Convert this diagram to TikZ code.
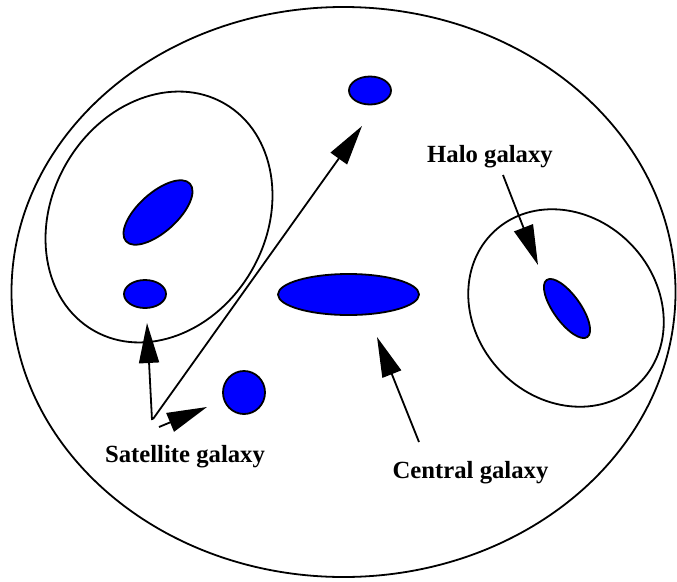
\documentclass[tikz,border=0pt]{standalone}
\usepackage{fontspec}
\setmainfont{Liberation Serif}
\usetikzlibrary{arrows.meta,shapes.geometric}
\begin{document}
\begin{tikzpicture}[x=1pt,y=-1pt,
  halo/.style={draw=black,line width=1.8pt,ellipse,inner sep=0pt,outer sep=0pt},
  gal/.style={draw=black,fill=blue,line width=1.8pt,ellipse,inner sep=0pt,outer sep=0pt},
  arr/.style={line width=1.8pt,-{Triangle[length=40pt,width=20pt]}},
  lab/.style={font=\bfseries\fontsize{24.7}{29}\selectfont,inner sep=0pt,anchor=base}]
\useasboundingbox[fill=white] (0,0) rectangle (677,581);
% outer halo
\node[halo,minimum width=664pt,minimum height=570pt] (outer) at (343.5,292) {};
% sub halos
\node[halo,minimum width=262pt,minimum height=214pt,rotate=60] (lefthalo) at (159,217) {};
\node[halo,minimum width=210pt,minimum height=182pt,rotate=133] (righthalo) at (566,308) {};
% galaxies
\node[gal,minimum width=86pt,minimum height=39pt,rotate=42] (g1) at (158,212.5) {};
\node[gal,minimum width=42pt,minimum height=28pt] (g2) at (145,294) {};
\node[gal,minimum width=42pt,minimum height=28pt] (g3) at (370,90.5) {};
\node[gal,minimum width=42pt,minimum height=43pt] (g4) at (244,392.5) {};
\node[gal,minimum width=141pt,minimum height=41pt] (central) at (348.5,294.5) {};
\node[gal,minimum width=70pt,minimum height=27pt,rotate=-54.5] (g5) at (567,308.5) {};
% labels
\node[lab] (halolab) at (490,162) {Halo galaxy};
\node[lab] (centlab) at (470.5,478) {Central galaxy};
\node[lab] (satlab) at (185,462) {Satellite galaxy};
% arrow end points
\coordinate (hs) at (503,175); \coordinate (he) at (538,265);
\coordinate (cs) at (419,442); \coordinate (ce) at (377,337);
\coordinate (s1s) at (152,420); \coordinate (s1e) at (147,323);
\coordinate (s2s) at (153,419); \coordinate (s2e) at (362,126);
\coordinate (s3s) at (159,427); \coordinate (s3e) at (207,407);
\draw[arr] (hs) -- (he);
\draw[arr] (cs) -- (ce);
\draw[arr] (s1s) -- (s1e);
\draw[arr] (s2s) -- (s2e);
\draw[arr] (s3s) -- (s3e);
\end{tikzpicture}
\end{document}
